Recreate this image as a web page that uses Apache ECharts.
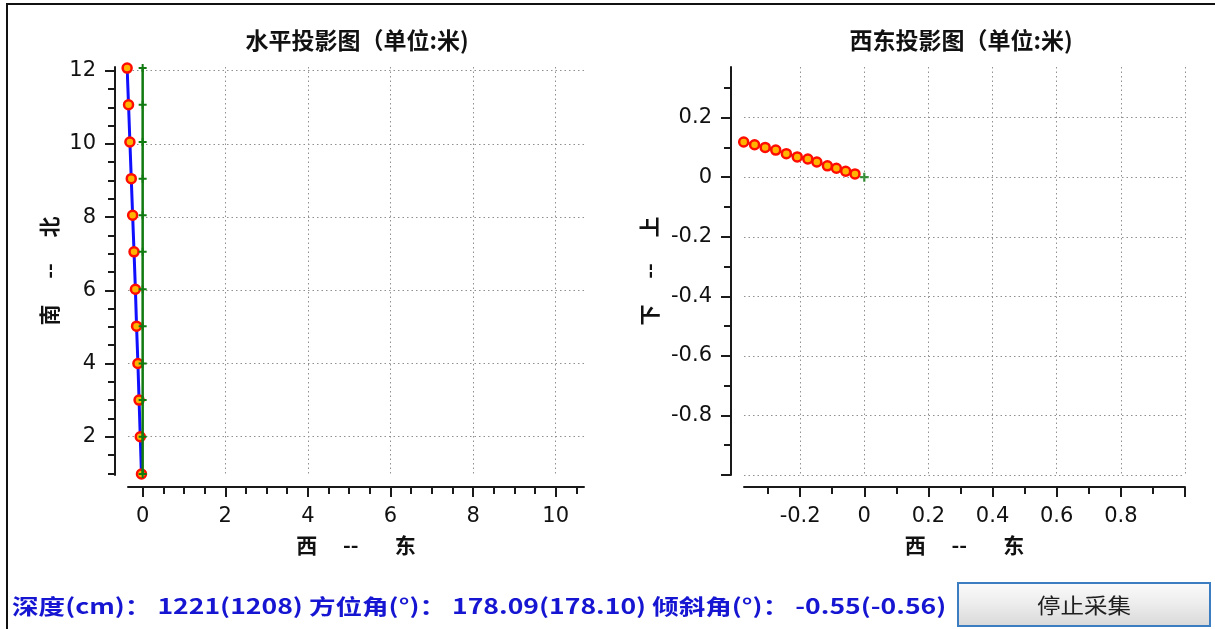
<!DOCTYPE html>
<html>
<head>
<meta charset="utf-8">
<script src="https://cdn.jsdelivr.net/npm/echarts@6/dist/echarts.min.js"></script>
<style>
html,body{margin:0;padding:0;background:#ffffff;}
#chart{width:1215px;height:629px;}
</style>
</head>
<body>
<div id="chart"></div>
<script>
// ---------- data ----------
// survey points (12 stations)
const pointNorth = [0.98, 2.0, 3.0, 4.0, 5.02, 6.03, 7.05, 8.05, 9.05, 10.05, 11.07, 12.07];
const pointEast  = [-0.029, -0.058, -0.087, -0.115, -0.148, -0.176, -0.209, -0.243, -0.276, -0.309, -0.342, -0.376];
const pointUp    = [0.011, 0.020, 0.030, 0.038, 0.051, 0.061, 0.068, 0.079, 0.091, 0.100, 0.109, 0.118];
// reference (green) line
const refEast  = [0, 0, 0, 0, 0, 0, 0, 0, 0, 0, 0, 0];
const refNorth = [0.98, 2.0, 3.0, 4.0, 5.02, 6.03, 7.05, 8.05, 9.05, 10.05, 11.07, 12.07];
const originEast = [0];
const originUp   = [0];

// ---------- ticks ----------
const leftXTicks  = [0, 2, 4, 6, 8, 10];
const leftXLabels = [0, 2, 4, 6, 8, 10];
const leftXMinor  = [0.5, 1, 1.5, 2.5, 3, 3.5, 4.5, 5, 5.5, 6.5, 7, 7.5, 8.5, 9, 9.5, 10.5];
const leftYTicks  = [2, 4, 6, 8, 10, 12];
const leftYLabels = [2, 4, 6, 8, 10, 12];
const leftYMinor  = [1, 1.5, 2.5, 3, 3.5, 4.5, 5, 5.5, 6.5, 7, 7.5, 8.5, 9, 9.5, 10.5, 11, 11.5];
const rightXTicks  = [-0.2, 0, 0.2, 0.4, 0.6, 0.8, 1.0];
const rightXLabels = [-0.2, 0, 0.2, 0.4, 0.6, 0.8];
const rightXMinor  = [-0.3, -0.1, 0.1, 0.3, 0.5, 0.7, 0.9];
const rightYTicks  = [-1.0, -0.8, -0.6, -0.4, -0.2, 0, 0.2];
const rightYLabels = [-0.8, -0.6, -0.4, -0.2, 0, 0.2];
const rightYMinor  = [-0.9, -0.7, -0.5, -0.3, -0.1, 0.1, 0.3];

// ---------- texts ----------
const leftTitle  = '水平投影图（单位:米)';
const rightTitle = '西东投影图（单位:米)';
const leftXName  = '西\u3000 --\u3000\u2002 东';
const leftYName  = '南\u3000 --\u3000 北';
const rightXName = '西\u3000 --\u3000\u2002 东';
const rightYName = '下\u3000 --\u3000 上';
const infoText   = '深度(cm)： 1221(1208) 方位角(°)： 178.09(178.10) 倾斜角(°)： -0.55(-0.56)';
const buttonText = '停止采集';

// ---------- helpers ----------
const CJK = '"Noto Sans CJK SC", "Noto Sans", sans-serif';
const NUM = '"DejaVu Sans", sans-serif';
const AX = '#1a1a1a';

function zip(a, b) { return a.map((v, i) => [v, b[i]]); }
function fmt(v) { return String(Math.round(v * 100) / 100); }

function mainAxis(gridIndex, min, max, ticks, labels, name, nameGap, offset, isY) {
  return {
    type: 'value', gridIndex, min, max, offset,
    position: isY ? 'left' : 'bottom',
    name, nameLocation: 'middle', nameGap, nameRotate: isY ? 90 : 0,
    nameTextStyle: { fontFamily: CJK, fontWeight: 'bold', fontSize: 21, color: '#111', lineHeight: 21 },
    axisLine: { show: true, onZero: false, lineStyle: { color: AX, width: 2 } },
    axisTick: { show: true, inside: false, length: 10, customValues: ticks, lineStyle: { color: AX, width: 2 } },
    axisLabel: { show: true, customValues: labels, margin: 19, color: '#111', fontFamily: NUM, fontSize: 21, formatter: fmt },
    splitLine: { show: true, lineStyle: { color: '#909090', width: 1, type: [1.5, 3] } },
    minorTick: { show: false },
    minorSplitLine: { show: false }
  };
}
function minorAxis(gridIndex, min, max, ticks, offset, isY) {
  return {
    type: 'value', gridIndex, min, max, offset,
    position: isY ? 'left' : 'bottom',
    axisLine: { show: false, onZero: false },
    axisTick: { show: true, inside: false, length: 7, customValues: ticks, lineStyle: { color: AX, width: 2 } },
    axisLabel: { show: false },
    splitLine: { show: false },
    minorTick: { show: false }
  };
}

const plusSymbol = 'path://M3,0H5V3H8V5H5V8H3V5H0V3H3Z';
const trackItem = { color: '#ffb400', borderColor: '#ff0d00', borderWidth: 2.5 };

const chart = echarts.init(document.getElementById('chart'), null, { renderer: 'canvas' });
chart.setOption({
  animation: false,
  backgroundColor: '#ffffff',
  title: [
    { text: leftTitle, left: 357, top: 29, textAlign: 'center', padding: 0,
      textStyle: { fontFamily: CJK, fontWeight: 'bold', fontSize: 23, color: '#111', lineHeight: 23 } },
    { text: rightTitle, left: 961, top: 29, textAlign: 'center', padding: 0,
      textStyle: { fontFamily: CJK, fontWeight: 'bold', fontSize: 23, color: '#111', lineHeight: 23 } }
  ],
  grid: [
    { left: 128, top: 67, width: 456, height: 408, containLabel: false },
    { left: 744, top: 67, width: 441, height: 408, containLabel: false }
  ],
  xAxis: [
    mainAxis(0, -0.355, 10.685, leftXTicks, leftXLabels, leftXName, 48, 12, false),
    minorAxis(0, -0.355, 10.685, leftXMinor, 12, false),
    mainAxis(1, -0.375, 1.0, rightXTicks, rightXLabels, rightXName, 48, 12, false),
    minorAxis(1, -0.375, 1.0, rightXMinor, 12, false)
  ],
  yAxis: [
    mainAxis(0, 0.954, 12.1, leftYTicks, leftYLabels, leftYName, 55, 13, true),
    minorAxis(0, 0.954, 12.1, leftYMinor, 13, true),
    mainAxis(1, -1.0, 0.37, rightYTicks, rightYLabels, rightYName, 71, 13, true),
    minorAxis(1, -1.0, 0.37, rightYMinor, 13, true)
  ],
  series: [
    { type: 'line', name: 'track-plan', xAxisIndex: 0, yAxisIndex: 0, data: zip(pointEast, pointNorth),
      symbol: 'circle', symbolSize: 9, showAllSymbol: true, clip: false,
      lineStyle: { color: '#1010ff', width: 3 }, itemStyle: trackItem, z: 3 },
    { type: 'line', name: 'ref-plan', xAxisIndex: 0, yAxisIndex: 0, data: zip(refEast, refNorth),
      symbol: plusSymbol, symbolSize: 8, showAllSymbol: true, clip: false,
      lineStyle: { color: '#117a11', width: 2.5 }, itemStyle: { color: '#117a11' }, z: 4 },
    { type: 'line', name: 'track-ew', xAxisIndex: 2, yAxisIndex: 2, data: zip(pointEast, pointUp),
      symbol: 'circle', symbolSize: 9, showAllSymbol: true, clip: false,
      lineStyle: { color: '#3010ff', width: 2.5 }, itemStyle: trackItem, z: 3 },
    { type: 'scatter', name: 'origin-ew', xAxisIndex: 2, yAxisIndex: 2, data: zip(originEast, originUp),
      symbol: plusSymbol, symbolSize: 9, clip: false, itemStyle: { color: '#117a11' }, z: 4 }
  ],
  graphic: [
    { type: 'polyline', silent: true, shape: { points: [[7, 629], [7, 4], [1215, 4]] },
      style: { stroke: '#111', lineWidth: 2, fill: null } },
    { type: 'text', silent: true, x: 12, y: 606, scaleX: 1.265,
      style: { text: infoText, fill: '#1616d2', font: 'bold 21px ' + CJK, verticalAlign: 'middle', align: 'left' } },
    { type: 'rect', silent: true, shape: { x: 958, y: 583, width: 252, height: 43 },
      style: { stroke: '#3c7cc0', lineWidth: 2,
        fill: new echarts.graphic.LinearGradient(0, 0, 0, 1, [
          { offset: 0, color: '#fbfbfb' }, { offset: 0.5, color: '#ececec' }, { offset: 1, color: '#d8d8d8' }]) } },
    { type: 'text', silent: true, x: 1084, y: 605, scaleX: 1.12,
      style: { text: buttonText, fill: '#202020', font: '21px ' + CJK, verticalAlign: 'middle', align: 'center' } }
  ]
});
</script>
</body>
</html>
